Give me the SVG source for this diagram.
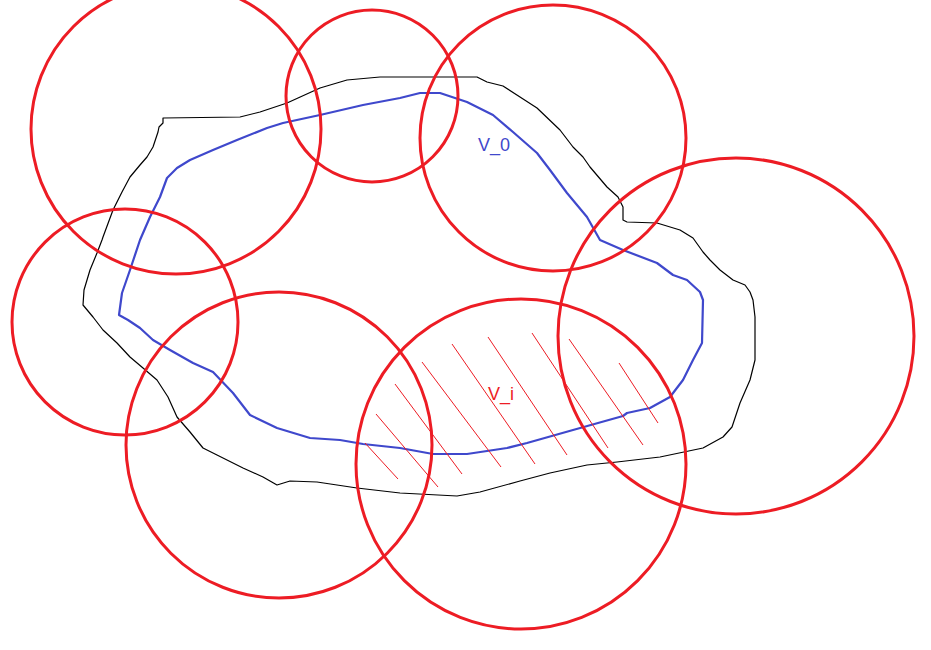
<svg xmlns="http://www.w3.org/2000/svg" width="931" height="650" viewBox="0 0 931 650">
<style>
.circ{fill:none;stroke:#ED1C24;stroke-width:3}
.hatch{stroke:#ED1C24;stroke-width:1}
.outer{fill:none;stroke:#000;stroke-width:1.2;stroke-linejoin:round}
.inner{fill:none;stroke:#3F48CC;stroke-width:2.2;stroke-linejoin:round}
.lbl{font-family:"Liberation Sans",Arial,sans-serif;font-size:18px}
</style>
<rect width="931" height="650" fill="#fff"/>
<g id="outer-region">
<polygon class="outer" points="163,123 163,118 240,117 260,112 287,103 320,88 347,80 380,77 477,77 487,82 503,86 520,97 537,108 560,130 573,147 583,157 590,167 607,187 618,197 623,207 623,220 627,222 657,223 680,230 693,238 703,252 710,260 720,270 733,280 745,285 750,292 753,300 755,317 755,360 750,380 740,403 732,427 723,437 703,448 660,457 617,462 587,465 550,473 520,481 480,492 457,496 400,493 357,488 317,482 290,481 277,485 263,477 243,468 217,455 203,448 190,432 177,417 168,397 157,380 143,368 130,357 117,343 103,330 93,317 83,305 84,290 90,270 97,253 102,240 103,237 113,210 122,192 130,177 140,165 147,157 153,147 158,132 159,127"/>
</g>
<g id="V_0">
<polygon class="inner" points="119,315 122,293 130,270 140,240 150,217 160,197 167,178 177,168 190,160 213,150 237,140 267,128 283,123 320,115 363,105 400,98 420,93 440,93 467,102 493,115 513,132 537,153 550,170 567,193 587,217 600,240 623,250 657,263 673,275 687,280 700,292 703,300 702,343 693,360 683,380 670,397 650,408 627,413 623,416 573,430 527,443 507,448 467,454 433,454 400,448 363,444 340,440 310,438 277,428 250,415 233,393 213,372 193,363 170,350 153,340 140,328 128,320"/>
<text class="lbl" x="478" y="151" fill="#3F48CC">V_0</text>
</g>
<g id="V_i">
<line class="hatch" x1="365" y1="443" x2="398" y2="479"/>
<line class="hatch" x1="376" y1="414" x2="438" y2="487"/>
<line class="hatch" x1="395" y1="384" x2="462" y2="474"/>
<line class="hatch" x1="422" y1="362" x2="501" y2="467"/>
<line class="hatch" x1="452" y1="344" x2="535" y2="464"/>
<line class="hatch" x1="488" y1="337" x2="567" y2="455"/>
<line class="hatch" x1="532" y1="333" x2="608" y2="448"/>
<line class="hatch" x1="569" y1="339" x2="643" y2="445"/>
<line class="hatch" x1="619" y1="363" x2="658" y2="423"/>
<text class="lbl" x="488" y="400" fill="#ED1C24">V_i</text>
</g>
<g id="cover">
<circle id="c1" class="circ" cx="176" cy="129" r="145"/>
<circle id="c2" class="circ" cx="372" cy="96" r="86"/>
<circle id="c3" class="circ" cx="553" cy="138" r="133"/>
<circle id="c4" class="circ" cx="736" cy="336" r="178"/>
<circle id="c5" class="circ" cx="125" cy="322" r="113"/>
<circle id="c6" class="circ" cx="279" cy="445" r="153"/>
<circle id="c7" class="circ" cx="521" cy="464" r="165"/>
</g>
</svg>
